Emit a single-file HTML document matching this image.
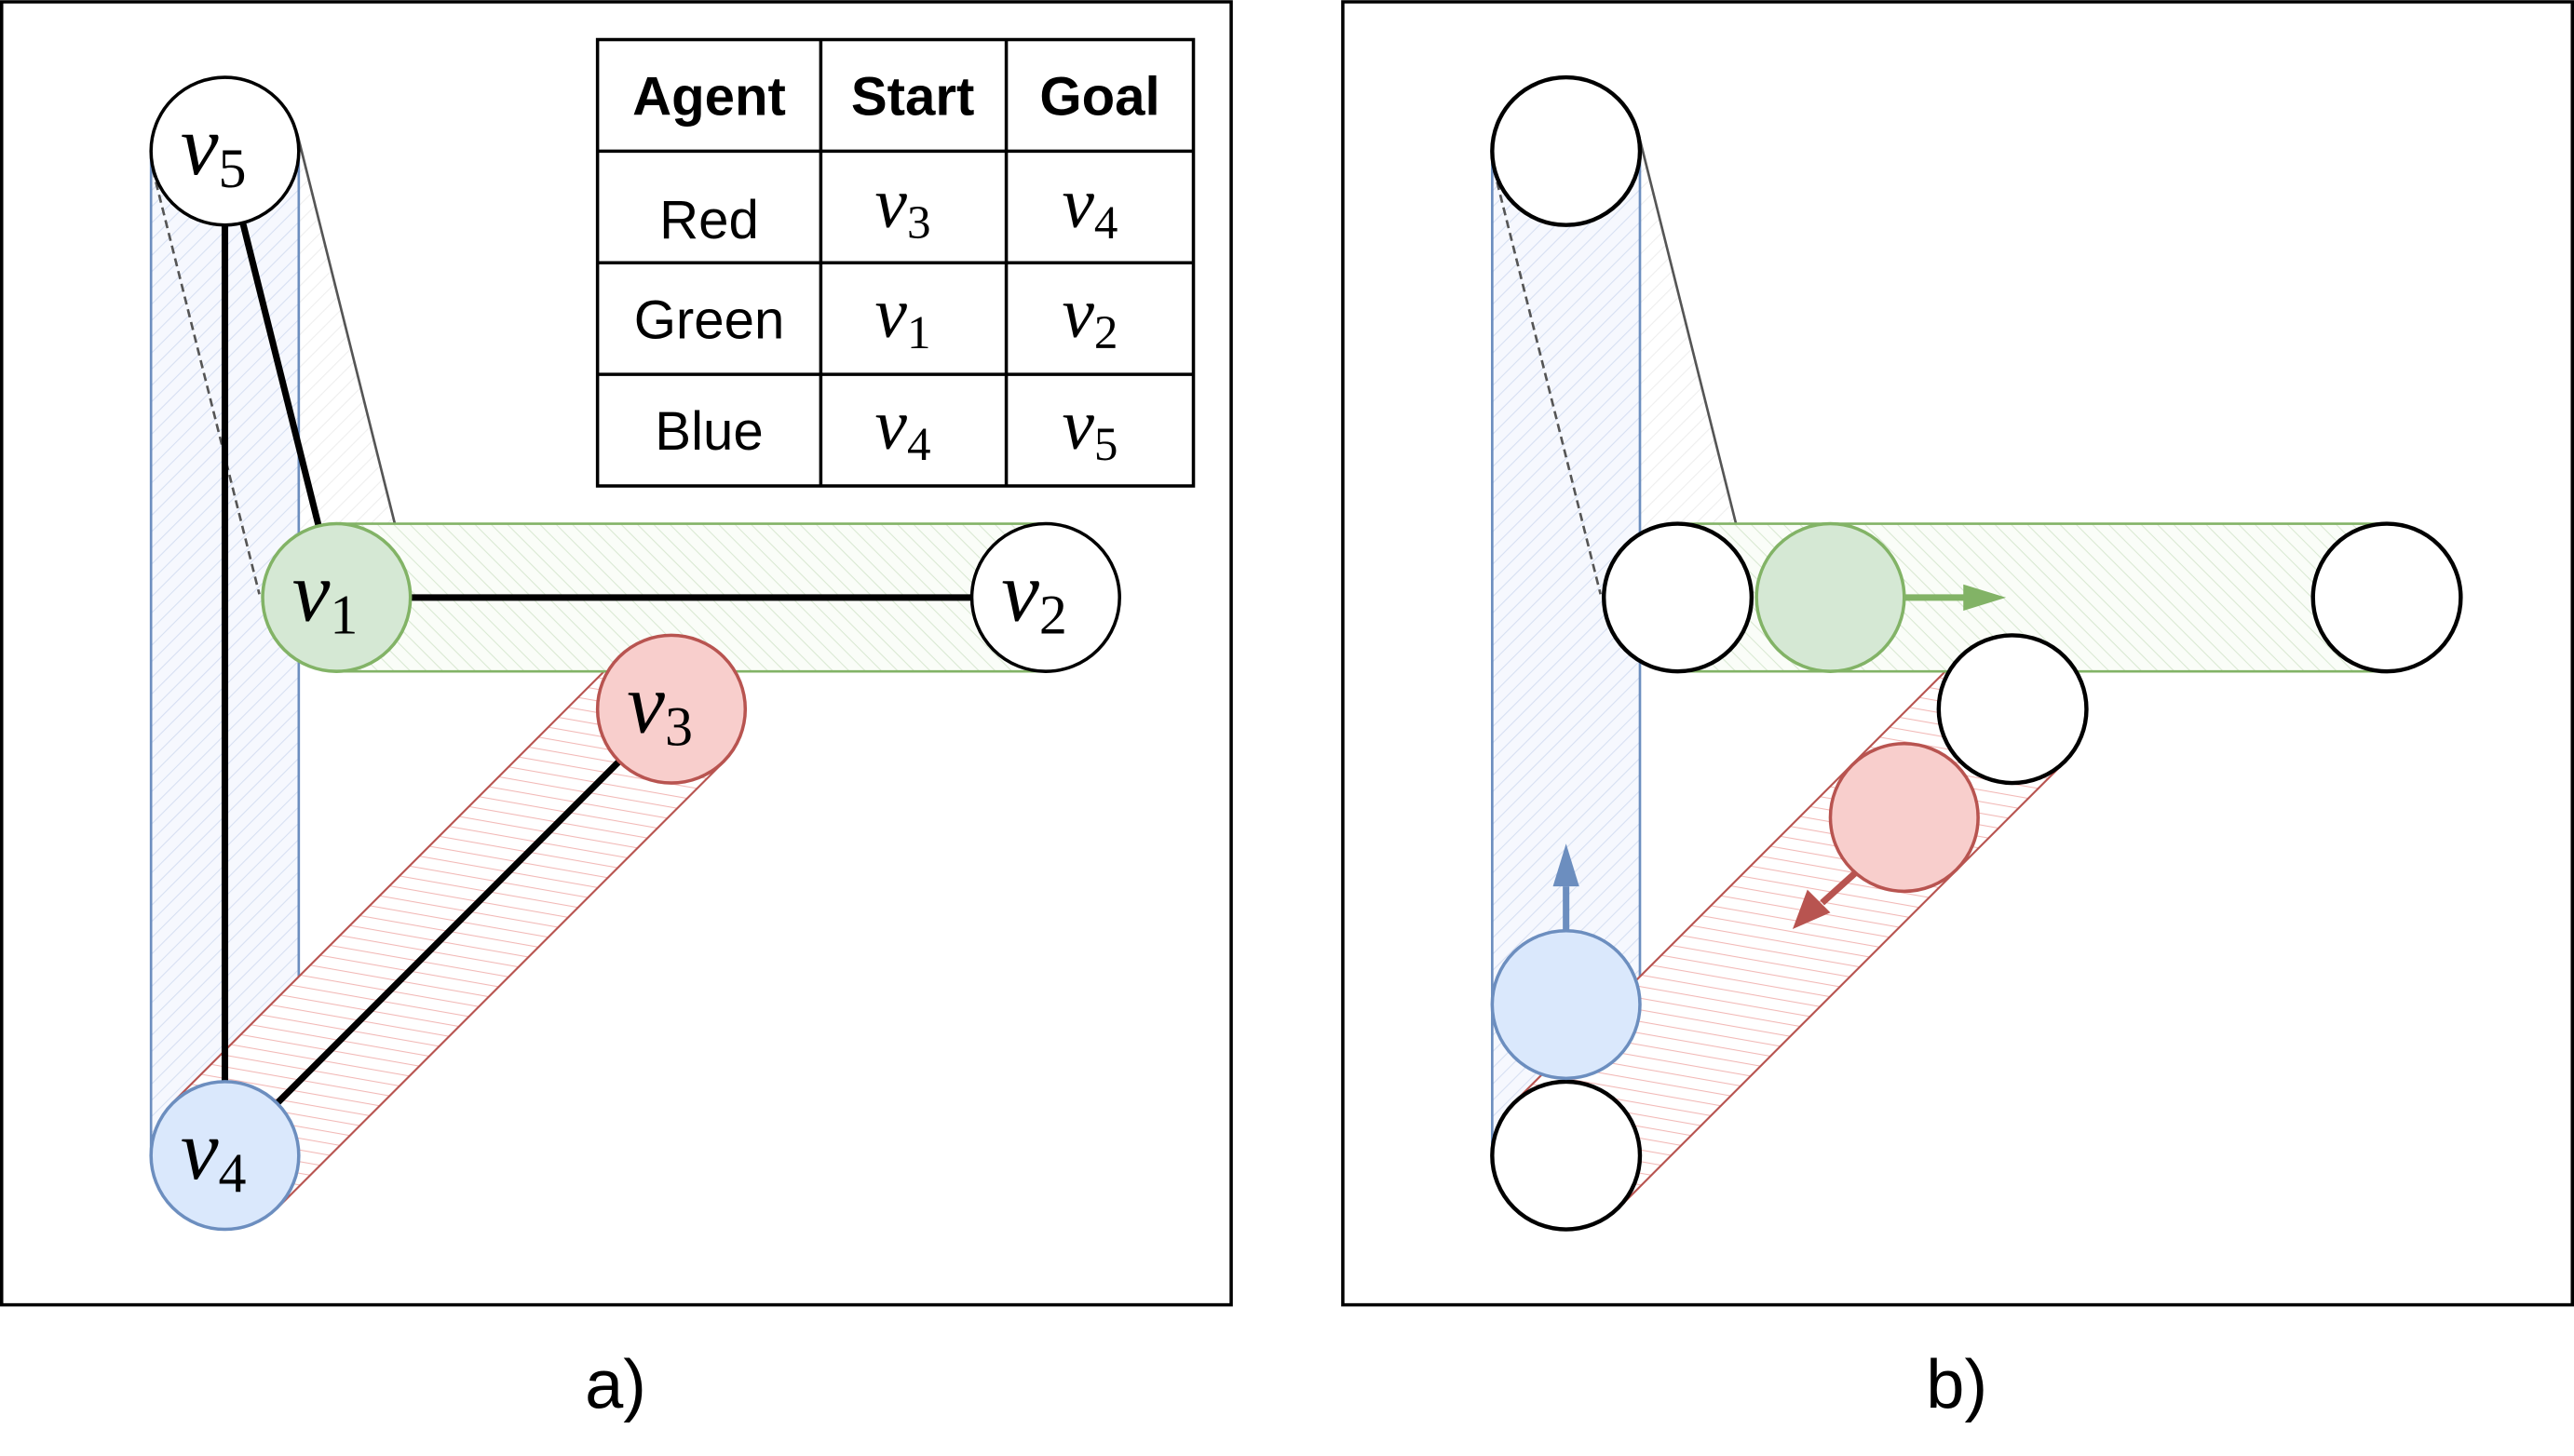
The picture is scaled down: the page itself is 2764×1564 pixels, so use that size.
<!DOCTYPE html>
<html><head><style>html,body{margin:0;padding:0;background:#fff}svg{display:block}</style></head>
<body>
<svg width="2764" height="1564" viewBox="0 0 1568 887" xmlns="http://www.w3.org/2000/svg" font-family="Liberation Serif, serif">
<defs>
<pattern id="hb" width="7" height="7" patternUnits="userSpaceOnUse" patternTransform="rotate(45)"><rect width="7" height="7" fill="#f6f8fe"/><line x1="0" y1="0" x2="0" y2="7" stroke="#d6dff2" stroke-width="1.2"/></pattern>
<pattern id="hg" width="7" height="7" patternUnits="userSpaceOnUse" patternTransform="rotate(135)"><rect width="7" height="7" fill="#fafdf8"/><line x1="0" y1="0" x2="0" y2="7" stroke="#d9e8d2" stroke-width="1.2"/></pattern>
<pattern id="hr" width="7" height="7" patternUnits="userSpaceOnUse" patternTransform="rotate(100)"><rect width="7" height="7" fill="#fff"/><line x1="0" y1="0" x2="0" y2="7" stroke="#f2b8b6" stroke-width="1.2"/></pattern>
<pattern id="hk" width="7" height="7" patternUnits="userSpaceOnUse" patternTransform="rotate(45)"><rect width="7" height="7" fill="#fff"/><line x1="0" y1="0" x2="0" y2="7" stroke="#eeeeee" stroke-width="1.2"/></pattern>
<g id="bands">
  <polygon points="181,81 249,353 161,375 93,103" fill="url(#hk)"/>
  <rect x="92" y="92" width="90" height="612" fill="url(#hb)" stroke="#6c8ebf" stroke-width="1.5"/>
  <line x1="181" y1="81" x2="242" y2="325" stroke="#555" stroke-width="1.5"/>
  <line x1="93" y1="103" x2="158" y2="362" stroke="#555" stroke-width="1.5" stroke-dasharray="5,3"/>
  <polygon points="377,400 441,464 169,736 105,672" fill="url(#hr)" stroke="#b85450" stroke-width="1.2"/>
  <rect x="205" y="319" width="432" height="90" fill="url(#hg)"/>
  <line x1="205" y1="319" x2="637" y2="319" stroke="#82b366" stroke-width="1.5"/>
  <line x1="205" y1="409" x2="637" y2="409" stroke="#82b366" stroke-width="1.5"/>
</g>
</defs>

<rect x="1" y="1" width="749" height="794" fill="#fff" stroke="#000" stroke-width="2"/>
<rect x="818" y="1" width="749" height="794" fill="#fff" stroke="#000" stroke-width="2"/>

<use href="#bands"/>
<g stroke="#000" stroke-width="4">
  <line x1="137" y1="137" x2="137" y2="659"/>
  <line x1="148" y1="136" x2="194" y2="320"/>
  <line x1="250" y1="364" x2="592" y2="364"/>
  <line x1="377" y1="464" x2="169" y2="672"/>
</g>
<circle cx="137" cy="92" r="45" fill="#fff" stroke="#000" stroke-width="2"/>
<circle cx="205" cy="364" r="45" fill="#d5e8d4" stroke="#82b366" stroke-width="2"/>
<circle cx="637" cy="364" r="45" fill="#fff" stroke="#000" stroke-width="2"/>
<circle cx="409" cy="432" r="45" fill="#f8cecc" stroke="#b85450" stroke-width="2"/>
<circle cx="137" cy="704" r="45" fill="#dae8fc" stroke="#6c8ebf" stroke-width="2"/>
<g font-style="italic" font-size="52" text-anchor="middle">
  <text x="130" y="106">v<tspan font-style="normal" font-size="34" dy="8">5</tspan></text>
  <text x="198" y="378">v<tspan font-style="normal" font-size="34" dy="8">1</tspan></text>
  <text x="630" y="378">v<tspan font-style="normal" font-size="34" dy="8">2</tspan></text>
  <text x="402" y="446">v<tspan font-style="normal" font-size="34" dy="8">3</tspan></text>
  <text x="130" y="718">v<tspan font-style="normal" font-size="34" dy="8">4</tspan></text>
</g>

<g stroke="#000" stroke-width="2" fill="none">
  <rect x="364" y="24" width="363" height="272" fill="#fff"/>
  <line x1="500" y1="24" x2="500" y2="296"/><line x1="613" y1="24" x2="613" y2="296"/>
  <line x1="364" y1="92" x2="727" y2="92"/><line x1="364" y1="160" x2="727" y2="160"/><line x1="364" y1="228" x2="727" y2="228"/>
</g>
<g font-family="Liberation Sans, sans-serif" font-size="33" text-anchor="middle">
  <text x="432" y="70" font-weight="bold">Agent</text>
  <text x="556" y="70" font-weight="bold">Start</text>
  <text x="670" y="70" font-weight="bold">Goal</text>
  <text x="432" y="145">Red</text>
  <text x="432" y="206">Green</text>
  <text x="432" y="274">Blue</text>
</g>
<g font-style="italic" font-size="44" text-anchor="middle">
  <text x="550" y="138">v<tspan font-style="normal" font-size="29" dy="7">3</tspan></text>
  <text x="664" y="138">v<tspan font-style="normal" font-size="29" dy="7">4</tspan></text>
  <text x="550" y="205">v<tspan font-style="normal" font-size="29" dy="7">1</tspan></text>
  <text x="664" y="205">v<tspan font-style="normal" font-size="29" dy="7">2</tspan></text>
  <text x="550" y="273">v<tspan font-style="normal" font-size="29" dy="7">4</tspan></text>
  <text x="664" y="273">v<tspan font-style="normal" font-size="29" dy="7">5</tspan></text>
</g>

<use href="#bands" x="817"/>
<circle cx="954" cy="92" r="45" fill="#fff" stroke="#000" stroke-width="2.5"/>
<circle cx="1022" cy="364" r="45" fill="#fff" stroke="#000" stroke-width="2.5"/>
<circle cx="1454" cy="364" r="45" fill="#fff" stroke="#000" stroke-width="2.5"/>
<circle cx="1226" cy="432" r="45" fill="#fff" stroke="#000" stroke-width="2.5"/>
<circle cx="954" cy="704" r="45" fill="#fff" stroke="#000" stroke-width="2.5"/>
<circle cx="1115" cy="364" r="45" fill="#d5e8d4" stroke="#82b366" stroke-width="2"/>
<circle cx="1160" cy="498" r="45" fill="#f8cecc" stroke="#b85450" stroke-width="2"/>
<circle cx="954" cy="612" r="45" fill="#dae8fc" stroke="#6c8ebf" stroke-width="2"/>
<line x1="1160" y1="364" x2="1198" y2="364" stroke="#82b366" stroke-width="4"/>
<polygon points="1222,364 1196,356 1196,372" fill="#82b366"/>
<line x1="954" y1="567" x2="954" y2="540" stroke="#6c8ebf" stroke-width="4"/>
<polygon points="954,514 946,540 962,540" fill="#6c8ebf"/>
<line x1="1130" y1="532" x2="1110" y2="550" stroke="#b85450" stroke-width="4"/>
<polygon points="1092,566 1101,542 1115,556" fill="#b85450"/>

<g font-family="Liberation Sans, sans-serif" font-size="42" text-anchor="middle">
  <text x="375" y="858">a)</text>
  <text x="1192" y="858">b)</text>
</g>
</svg>
</body></html>
